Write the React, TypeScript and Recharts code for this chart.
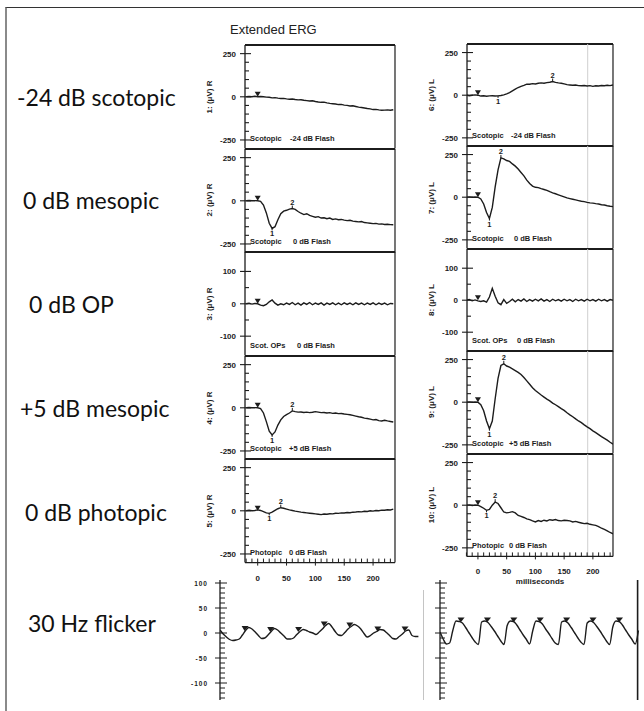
import React from "react"
import { LineChart, Line, XAxis, YAxis, ReferenceLine, ReferenceDot } from "recharts"

// ERG sweep time base, ms
const TIMES = [-20, -15, -10, -5, 0, 5, 10, 15, 20, 25, 30, 35, 40, 45, 50, 55, 60, 65, 70, 75, 80, 85, 90, 95, 100, 105, 110, 115, 120, 125, 130, 135, 140, 145, 150, 155, 160, 165, 170, 175, 180, 185, 190, 195, 200, 205, 210, 215, 220, 225, 230, 235]

// right eye, uV
const R1 = [0, 2, 0, 3, 0, 2, 0, -2, -3, -6, -5, -8, -10, -9, -12, -14, -13, -16, -18, -17, -20, -22, -24, -23, -27, -30, -32, -31, -35, -38, -40, -42, -45, -44, -48, -50, -53, -52, -56, -60, -62, -65, -68, -70, -74, -73, -76, -78, -77, -76, -78, -75]
const R2 = [0, 2, 0, 1, 0, -3, -25, -70, -130, -160, -150, -110, -75, -60, -55, -48, -45, -50, -62, -72, -80, -75, -85, -90, -95, -92, -100, -98, -104, -100, -108, -105, -110, -108, -112, -115, -113, -118, -120, -122, -120, -126, -128, -130, -132, -131, -135, -134, -137, -136, -138, -139]
const R3 = [0, 2, -1, 1, 0, -4, -6, -2, 6, 12, 2, -4, 0, -3, 2, -2, 4, -3, 2, -4, 3, -2, 4, -3, 2, -2, 3, -4, 2, -2, 3, -3, 2, -3, 3, -2, 2, -3, 3, -2, 2, -3, 2, -2, 3, -3, 2, -2, 2, -3, 1, 0]
const R4 = [0, 2, 0, 1, 0, -5, -30, -80, -135, -157, -140, -100, -70, -50, -40, -30, -18, -22, -25, -24, -27, -25, -28, -26, -22, -25, -28, -27, -30, -28, -32, -30, -34, -33, -36, -38, -40, -44, -48, -52, -55, -60, -62, -66, -70, -68, -74, -76, -72, -76, -79, -82]
const R5 = [0, 3, 0, 2, 5, 2, -5, -12, -15, -8, 2, 12, 18, 15, 10, 5, 2, -2, -5, -8, -10, -12, -14, -16, -18, -20, -22, -19, -20, -17, -18, -14, -15, -12, -13, -10, -11, -8, -7, -5, -6, -3, -4, 0, -2, 2, 0, 4, 3, 6, 5, 10]

// left eye, uV
const L6 = [0, -3, 0, 2, 0, -5, -3, -6, -4, -3, -5, -4, -2, 2, 8, 15, 25, 35, 45, 52, 58, 65, 64, 68, 66, 70, 72, 70, 74, 76, 80, 75, 72, 70, 66, 62, 60, 58, 60, 56, 55, 57, 54, 56, 52, 55, 54, 57, 55, 58, 56, 60]
const L7 = [0, 2, 0, 1, 0, -10, -40, -90, -125, -60, 60, 160, 230, 225, 215, 210, 195, 182, 165, 145, 125, 100, 80, 65, 58, 56, 50, 45, 40, 32, 25, 20, 14, 8, 2, -4, -8, -12, -16, -20, -24, -26, -30, -33, -35, -38, -40, -44, -46, -50, -53, -55]
const L8 = [0, 2, -2, 1, -2, -4, -2, -6, 10, 37, 12, -8, -14, 2, -10, -4, 3, -5, 2, -3, 4, -4, 2, -3, 3, -2, 4, -3, 2, -4, 3, -2, 2, -3, 3, -2, 2, -4, 3, -2, 2, -3, 3, -2, 2, -3, 3, -2, 2, -3, 2, 0]
const L9 = [0, 2, 0, 1, 0, -15, -50, -110, -155, -110, 20, 140, 215, 225, 212, 205, 195, 185, 175, 162, 145, 125, 105, 85, 68, 55, 42, 30, 18, 8, -5, -15, -26, -38, -48, -62, -74, -85, -98, -110, -120, -133, -145, -155, -168, -178, -190, -202, -212, -222, -235, -246]
const L10 = [0, 2, -2, 1, 0, -8, -18, -30, -25, 0, 18, 10, -15, -40, -45, -42, -38, -45, -60, -65, -72, -80, -85, -92, -98, -90, -95, -88, -92, -85, -88, -84, -90, -92, -88, -90, -92, -98, -95, -100, -104, -108, -106, -112, -115, -118, -125, -135, -142, -150, -160, -168]

// 30 Hz flicker, ms / uV
const FLICKER_T = [0, 4, 8, 12, 16, 20, 24, 28, 32, 36, 40, 44, 48, 52, 56, 60, 64, 68, 72, 76, 80, 84, 88, 92, 96, 100, 104, 108, 112, 116, 120, 124, 128, 132, 136, 140, 144, 148, 152, 156, 160, 164, 168, 172, 176, 180, 184, 188, 192, 196, 200, 204, 208, 212, 216, 220, 224, 228, 232, 236, 240, 244, 248]
const FLICKER_R = [6, -2, -8, -13, -15, -14, -12, -4, 5, 11, 8, 2, -5, -11, -10, -4, 3, 9, 6, 0, -6, -12, -12, -10, -3, 3, 7, 5, 2, 0, -3, 2, 8, 15, 19, 12, 3, -4, -5, 1, 8, 13, 17, 14, 8, -1, -8, -5, 0, 3, 7, 6, 1, -5, -11, -12, -7, -2, 4, 6, -5, -7, -7]
const FLICKER_L = [2, -12, -22, -20, 5, 24, 23, 20, 11, 1, -9, -18, -23, 22, 24, 21, 13, 4, -6, -16, -23, 15, 24, 23, 16, 6, -4, -13, -22, 5, 24, 23, 18, 8, -1, -11, -20, -23, 22, 24, 20, 11, 1, -9, -18, -23, 20, 24, 21, 13, 4, -6, -16, -23, 12, 24, 23, 16, 6, -4, -13, -22, 5]
const FLICKER_R_MARKS = [{ t: 32, v: 6 }, { t: 64, v: 4 }, { t: 99, v: 4 }, { t: 131, v: 15 }, { t: 163, v: 13 }, { t: 198, v: 5 }, { t: 232, v: 5 }]
const FLICKER_L_MARKS = [{ t: 27, v: 23 }, { t: 60, v: 23 }, { t: 93, v: 23 }, { t: 126, v: 23 }, { t: 159, v: 23 }, { t: 192, v: 23 }, { t: 225, v: 23 }]

const ROW_LABELS = ["-24 dB scotopic", "0 dB mesopic", "0 dB OP", "+5 dB mesopic", "0 dB photopic", "30 Hz flicker"]
const CAPTIONS = [["Scotopic", "-24 dB Flash"], ["Scotopic", "0 dB Flash"], ["Scot. OPs", "0 dB Flash"], ["Scotopic", "+5 dB Flash"], ["Photopic", "0 dB Flash"]]
const AXIS_LABELS_R = ["1: (μV) R", "2: (μV) R", "3: (μV) R", "4: (μV) R", "5: (μV) R"]
const AXIS_LABELS_L = ["6: (μV) L", "7: (μV) L", "8: (μV) L", "9: (μV) L", "10: (μV) L"]

type Mark = { t: number; v: number; n: string }
const MARKS_R: Mark[][] = [
  [],
  [{ t: 25, v: -160, n: "1" }, { t: 60, v: -45, n: "2" }],
  [],
  [{ t: 25, v: -157, n: "1" }, { t: 60, v: -18, n: "2" }],
  [{ t: 20, v: -15, n: "1" }, { t: 40, v: 18, n: "2" }]
]
const MARKS_L: Mark[][] = [
  [{ t: 35, v: -4, n: "1" }, { t: 130, v: 80, n: "2" }],
  [{ t: 20, v: -125, n: "1" }, { t: 40, v: 230, n: "2" }],
  [],
  [{ t: 20, v: -155, n: "1" }, { t: 45, v: 225, n: "2" }],
  [{ t: 15, v: -30, n: "1" }, { t: 30, v: 18, n: "2" }]
]

const X_TICKS = [-20, -10, 0, 10, 20, 30, 40, 50, 60, 70, 80, 90, 100, 110, 120, 130, 140, 150, 160, 170, 180, 190, 200, 210, 220, 230]
const X_MAJOR = [0, 50, 100, 150, 200]
const FLASH_TICKS = [-250, -200, -150, -100, -50, 0, 50, 100, 150, 200, 250]
const FLASH_MAJOR = [-250, 0, 250]
const OP_TICKS = [-100, -50, 0, 50, 100]
const OP_MAJOR = [-100, 0, 100]
const FLICKER_TICKS = [-130, -120, -110, -100, -90, -80, -70, -60, -50, -40, -30, -20, -10, 0, 10, 20, 30, 40, 50, 60, 70, 80, 90, 100]
const FLICKER_MAJOR = [-100, -50, 0, 50, 100]

const INK = "#1c1c1c"
const SANS = '"Liberation Sans", Arial, sans-serif'
const AXIS_W = 50
const TOP_PAD = 2

const yTick = (plotX: number, major: number[]) => (p: any) => {
  const v = p.payload.value
  const big = major.includes(v)
  return (
    <g>
      <line x1={big ? plotX - 5 : plotX} x2={plotX + (big ? 6 : 4)} y1={p.y} y2={p.y} stroke={INK} strokeWidth={1.1} />
      {big && (
        <text x={plotX - 9} y={p.y + 3} textAnchor="end" fontSize={8} fontWeight={700} fill={INK} fontFamily={SANS}>
          {v}
        </text>
      )}
    </g>
  )
}

const xTick = (baseY: number) => (p: any) => {
  const v = p.payload.value
  const big = X_MAJOR.includes(v)
  return (
    <g>
      <line x1={p.x} x2={p.x} y1={baseY - 4} y2={big ? baseY + 3 : baseY} stroke={INK} strokeWidth={1} />
      {big && (
        <text x={p.x} y={baseY + 18} textAnchor="middle" fontSize={8} fontWeight={700} fill={INK} fontFamily={SANS}>
          {v}
        </text>
      )}
    </g>
  )
}

const flashShape = (p: any) => (
  <polygon points={`${p.cx - 3},${p.cy - 5} ${p.cx + 3},${p.cy - 5} ${p.cx},${p.cy}`} fill={INK} />
)

const waveShape = (n: string) => (p: any) => {
  const up = n === "2"
  return (
    <g>
      <line x1={p.cx} x2={p.cx} y1={p.cy} y2={up ? p.cy - 3 : p.cy + 2} stroke={INK} strokeWidth={1} />
      <text x={p.cx} y={up ? p.cy - 4 : p.cy + 8} textAnchor="middle" fontSize={7.5} fontWeight={700} fill={INK} fontFamily={SANS}>
        {n}
      </text>
    </g>
  )
}

type PanelProps = {
  plotX: number
  top: number
  plotW: number
  plotH: number
  xDomain: [number, number]
  values: number[]
  op: boolean
  marks: Mark[]
  caption: string[]
  gap: number
  axisLabel: string
  bottom: boolean
  cursor?: number
}

function Panel({ plotX, top, plotW, plotH, xDomain, values, op, marks, caption, gap, axisLabel, bottom, cursor }: PanelProps) {
  const yDomain: [number, number] = op ? [-160, 160] : [-300, 300]
  const data = TIMES.map((t, i) => ({ t, v: values[i] }))
  const xH = bottom ? 30 : 0
  const padB = bottom ? 0 : 2
  return (
    <>
      <div style={{ position: "absolute", left: plotX - AXIS_W, top: top - TOP_PAD }}>
        <LineChart
          width={AXIS_W + plotW + 4}
          height={TOP_PAD + plotH + xH + padB}
          data={data}
          margin={{ top: TOP_PAD, right: 4, bottom: padB, left: 0 }}
        >
          <XAxis
            dataKey="t"
            type="number"
            domain={xDomain}
            allowDataOverflow
            ticks={X_TICKS}
            interval={0}
            hide={!bottom}
            height={xH}
            axisLine={{ stroke: INK, strokeWidth: 1.3 }}
            tickLine={false}
            tick={xTick(TOP_PAD + plotH)}
          />
          <YAxis
            type="number"
            domain={yDomain}
            allowDataOverflow
            ticks={op ? OP_TICKS : FLASH_TICKS}
            interval={0}
            width={AXIS_W}
            axisLine={{ stroke: INK, strokeWidth: 1.3 }}
            tickLine={false}
            tick={yTick(AXIS_W, op ? OP_MAJOR : FLASH_MAJOR)}
          />
          <ReferenceLine y={yDomain[1]} stroke={INK} strokeWidth={2} />
          <ReferenceLine x={xDomain[1]} stroke={INK} strokeWidth={1.2} />
          {cursor !== undefined && <ReferenceLine x={cursor} stroke="#cfcfcf" strokeWidth={1} />}
          <Line type="linear" dataKey="v" stroke={INK} strokeWidth={1.4} dot={false} isAnimationActive={false} />
          <ReferenceDot x={0} y={0} r={3} shape={flashShape} />
          {marks.map((m) => (
            <ReferenceDot key={m.n} x={m.t} y={m.v} r={3} shape={waveShape(m.n)} />
          ))}
        </LineChart>
      </div>
      <div
        style={{
          position: "absolute",
          left: plotX + 5,
          top: top + plotH - 14,
          lineHeight: "8px",
          fontSize: 7.5,
          fontWeight: 700,
          fontFamily: SANS,
          color: INK,
          whiteSpace: "nowrap"
        }}
      >
        {caption[0]}
        <span style={{ position: "absolute", left: gap - 5, top: 0 }}>{caption[1]}</span>
      </div>
      <div
        style={{
          position: "absolute",
          left: plotX - 36,
          top: top + plotH / 2,
          transform: "translate(-50%, -50%) rotate(-90deg)",
          fontSize: 8,
          fontWeight: 700,
          fontFamily: SANS,
          color: INK,
          whiteSpace: "nowrap"
        }}
      >
        {axisLabel}
      </div>
    </>
  )
}

const flickerMark = (p: any) => (
  <polygon points={`${p.cx - 4},${p.cy - 4} ${p.cx + 3},${p.cy - 4} ${p.cx - 1},${p.cy + 1}`} fill={INK} />
)

function Flicker({ plotX, values, marks, labels, border }: { plotX: number; values: number[]; marks: { t: number; v: number }[]; labels: boolean; border: boolean }) {
  const data = FLICKER_T.map((t, i) => ({ t, v: values[i] }))
  return (
    <div style={{ position: "absolute", left: plotX - AXIS_W, top: 580 - TOP_PAD }}>
      <LineChart width={AXIS_W + 200 + 4} height={TOP_PAD + 120 + 2} data={data} margin={{ top: TOP_PAD, right: 4, bottom: 2, left: 0 }}>
        <XAxis dataKey="t" type="number" domain={[0, 250]} allowDataOverflow hide />
        <YAxis
          type="number"
          domain={[-134, 106]}
          allowDataOverflow
          ticks={FLICKER_TICKS}
          interval={0}
          width={AXIS_W}
          axisLine={{ stroke: INK, strokeWidth: 1.3 }}
          tickLine={false}
          tick={(p: any) => {
            const v = p.payload.value
            const big = FLICKER_MAJOR.includes(v)
            return (
              <g>
                <line x1={big ? AXIS_W - 5 : AXIS_W} x2={AXIS_W + (big ? 7 : 5)} y1={p.y} y2={p.y} stroke={INK} strokeWidth={1} />
                {big && labels && (
                  <text x={AXIS_W - 12} y={p.y + 2.5} textAnchor="end" fontSize={6.5} fontWeight={700} letterSpacing={1} fill={INK} fontFamily={SANS}>
                    {v}
                  </text>
                )}
              </g>
            )
          }}
        />
        {border && <ReferenceLine x={247} stroke={INK} strokeWidth={1.6} />}
        <Line type="monotone" dataKey="v" stroke={INK} strokeWidth={1.4} dot={false} isAnimationActive={false} />
        {marks.map((m) => (
          <ReferenceDot key={m.t} x={m.t} y={m.v} r={3} shape={flickerMark} />
        ))}
      </LineChart>
    </div>
  )
}

const ROW_TEXT = [
  { x: 17, cy: 98 },
  { x: 23, cy: 201 },
  { x: 29, cy: 305 },
  { x: 20, cy: 409 },
  { x: 25, cy: 513 },
  { x: 28, cy: 624 }
]
const R_SERIES = [R1, R2, R3, R4, R5]
const L_SERIES = [L6, L7, L8, L9, L10]
const R_GAPS = [45, 48, 52, 44, 44]
const L_GAPS = [44, 47, 50, 42, 42]

export default function App() {
  const leftH = 103.6
  const rightH = 102.4
  return (
    <div style={{ position: "absolute", left: 0, top: 0, width: 644, height: 711, overflow: "hidden", background: "#fff" }}>
      <div style={{ position: "absolute", left: 5, top: 7, width: 700, height: 800, borderTop: "1.5px solid #333", borderLeft: "2px solid #8a8a8a" }} />
      <div style={{ position: "absolute", left: 230, top: 23, fontSize: 13, lineHeight: "13px", fontFamily: SANS, color: "#222", whiteSpace: "nowrap" }}>
        Extended ERG
      </div>
      {ROW_LABELS.map((s, i) => (
        <div
          key={s}
          style={{ position: "absolute", left: ROW_TEXT[i].x, top: ROW_TEXT[i].cy - 12, fontSize: 23, lineHeight: "23px", fontFamily: "Lato, sans-serif", color: "#111", whiteSpace: "nowrap" }}
        >
          {s}
        </div>
      ))}
      {R_SERIES.map((vals, i) => (
        <Panel
          key={"r" + i}
          plotX={245}
          top={45 + i * leftH}
          plotW={150}
          plotH={leftH}
          xDomain={[-22, 238]}
          values={vals}
          op={i === 2}
          marks={MARKS_R[i]}
          caption={CAPTIONS[i]}
          gap={R_GAPS[i]}
          axisLabel={AXIS_LABELS_R[i]}
          bottom={i === 4}
        />
      ))}
      {L_SERIES.map((vals, i) => (
        <Panel
          key={"l" + i}
          plotX={467}
          top={44 + i * rightH}
          plotW={146}
          plotH={rightH}
          xDomain={[-19, 235]}
          values={vals}
          op={i === 2}
          marks={MARKS_L[i]}
          caption={CAPTIONS[i]}
          gap={L_GAPS[i]}
          axisLabel={AXIS_LABELS_L[i]}
          bottom={i === 4}
          cursor={191}
        />
      ))}
      <div style={{ position: "absolute", left: 540, top: 581, transform: "translate(-50%, -50%)", fontSize: 8, fontWeight: 700, fontFamily: SANS, color: INK, whiteSpace: "nowrap" }}>
        milliseconds
      </div>
      <Flicker plotX={220} values={FLICKER_R} marks={FLICKER_R_MARKS} labels border={false} />
      <div style={{ position: "absolute", left: 423, top: 590, width: 1, height: 110, background: "#c4c4c4" }} />
      <Flicker plotX={440} values={FLICKER_L} marks={FLICKER_L_MARKS} labels={false} border />
    </div>
  )
}
